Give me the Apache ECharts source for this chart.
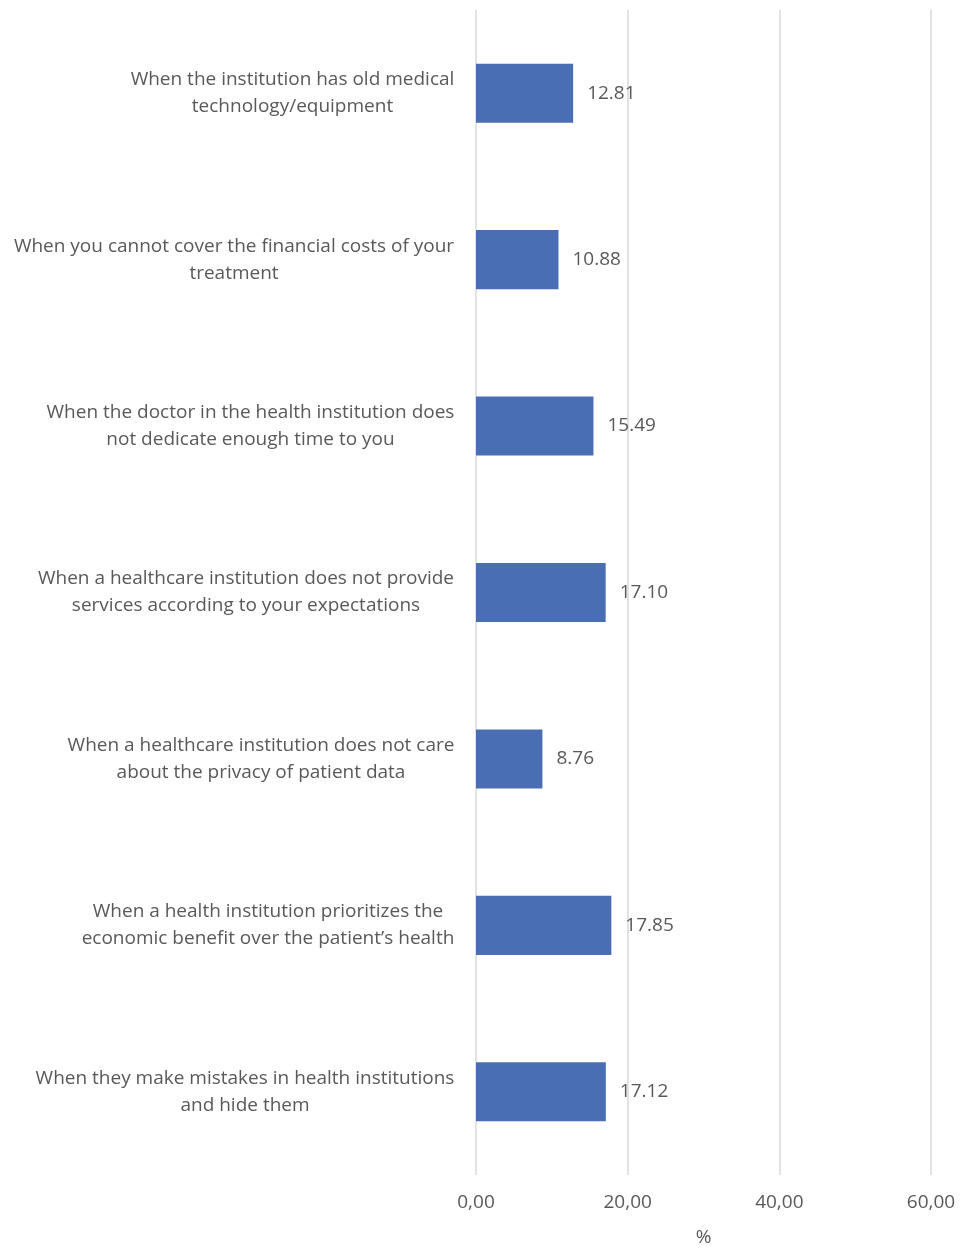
<!DOCTYPE html>
<html>
<head>
<meta charset="utf-8">
<script src="https://cdn.jsdelivr.net/npm/echarts@6/dist/echarts.min.js"></script>
<style>
  html, body { margin: 0; padding: 0; background: #fff; }
  #chart { width: 960px; height: 1248px; }
</style>
</head>
<body>
<div id="chart"></div>
<script>
// Reasons listed top to bottom
const categories = [
  'When the institution has old medical\ntechnology/equipment',
  'When you cannot cover the financial costs of your\ntreatment',
  'When the doctor in the health institution does\nnot dedicate enough time to you',
  'When a healthcare institution does not provide\nservices according to your expectations',
  'When a healthcare institution does not care\nabout the privacy of patient data',
  'When a health institution prioritizes the\neconomic benefit over the patient\u2019s health',
  'When they make mistakes in health institutions\nand hide them'
];
const values = [12.81, 10.88, 15.49, 17.10, 8.76, 17.85, 17.12];
const axisTicks = [0, 20, 40, 60];

const FONT = 'Open Sans';
const FONT_SIZE = 19;
const TEXT = '#595959';

// Each category label is a block whose lines are centred on one another;
// the block as a whole sits right-aligned against the axis.
const measure = document.createElement('canvas').getContext('2d');
measure.font = FONT_SIZE + 'px "' + FONT + '"';
const labelRich = {};
categories.forEach((c, i) => {
  const w = Math.max(...c.split('\n').map(s => measure.measureText(s).width));
  labelRich['c' + i] = {
    width: Math.ceil(w) + 1, align: 'center',
    color: TEXT, fontSize: FONT_SIZE, lineHeight: 27, fontFamily: FONT
  };
});

const chart = echarts.init(document.getElementById('chart'));
chart.setOption({
  animation: false,
  textStyle: { fontFamily: FONT },
  grid: {
    left: 476, right: 29, top: 10, bottom: 73,
    containLabel: false, outerBoundsMode: 'none'
  },
  xAxis: {
    type: 'value',
    min: axisTicks[0],
    max: axisTicks[axisTicks.length - 1],
    interval: axisTicks[1] - axisTicks[0],
    name: '%',
    nameLocation: 'middle',
    nameGap: 53,
    nameTextStyle: { color: TEXT, fontSize: FONT_SIZE, fontFamily: FONT },
    axisLine: { show: false },
    axisTick: { show: false },
    axisLabel: {
      color: TEXT, fontSize: FONT_SIZE, margin: 18, fontFamily: FONT,
      formatter: v => v.toFixed(2).replace('.', ',')
    },
    splitLine: { show: true, lineStyle: { color: '#d9d9d9', width: 1.5 } }
  },
  yAxis: {
    type: 'category',
    inverse: true,
    data: categories,
    axisLine: { show: false },
    axisTick: { show: false },
    axisLabel: {
      margin: 21,
      align: 'right',
      formatter: (value) => {
        const key = 'c' + categories.indexOf(value);
        return value.split('\n').map(s => '{' + key + '|' + s + '}').join('\n');
      },
      rich: labelRich
    }
  },
  series: [{
    type: 'bar',
    data: values,
    barWidth: '35.5%',
    itemStyle: { color: '#4a6eb4' },
    label: {
      show: true,
      position: 'right',
      distance: 14,
      color: TEXT,
      fontSize: FONT_SIZE,
      fontFamily: FONT,
      formatter: p => p.value.toFixed(2)
    }
  }]
});
</script>
</body>
</html>
